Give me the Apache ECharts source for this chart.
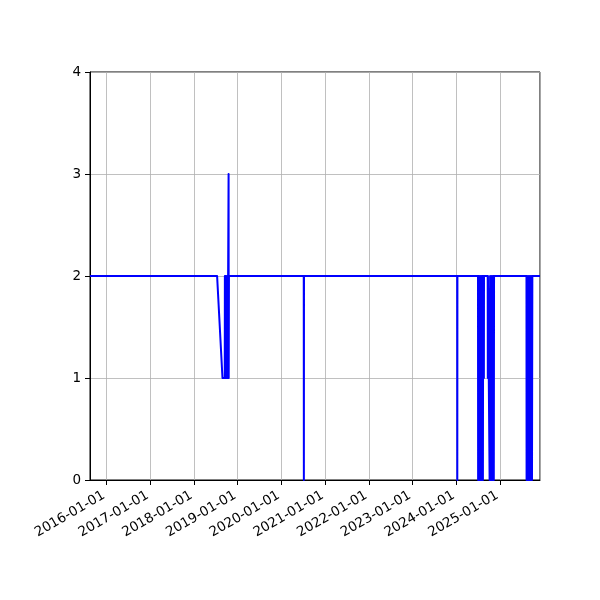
<!DOCTYPE html>
<html><head><meta charset="utf-8">
<script src="https://cdn.jsdelivr.net/npm/echarts@6/dist/echarts.min.js"></script>
<style>html,body{margin:0;padding:0;background:#fff}#c{width:600px;height:600px}</style>
</head><body><div id="c"></div>
<script>
const xStart = '2015-08-16';
const xEnd = '2025-12-01';
const yTicks = [0, 1, 2, 3, 4];
const dates = [
  '2015-08-16','2018-07-13','2018-08-27','2018-09-15','2018-09-16','2018-09-21','2018-09-22',
  '2018-09-28','2018-09-29','2018-10-05','2018-10-06','2018-10-12','2018-10-13','2018-10-17',
  '2018-10-18','2018-10-20',
  '2020-07-06','2020-07-07','2020-07-08',
  '2024-01-09','2024-01-10','2024-01-11',
  '2024-07-01','2024-07-02','2024-07-05','2024-07-10','2024-07-13','2024-07-18','2024-07-21',
  '2024-07-26','2024-07-29','2024-08-03','2024-08-06','2024-08-11','2024-08-13',
  '2024-08-18','2024-08-19','2024-08-20','2024-09-20','2024-09-21','2024-09-22',
  '2024-10-05','2024-10-06','2024-10-10','2024-10-15','2024-10-19','2024-10-24','2024-10-28',
  '2024-11-02','2024-11-06','2024-11-10','2024-11-12',
  '2025-08-10','2025-08-11','2025-08-15','2025-08-20','2025-08-24','2025-08-29','2025-09-02',
  '2025-09-07','2025-09-11','2025-09-16','2025-09-20','2025-09-25','2025-09-28',
  '2025-12-01'
];
const values = [
  2,2,1,1,2,1,2,
  1,2,1,2,1,2,3,
  1,2,
  2,0,2,
  2,0,2,
  2,0,2,0,2,0,2,
  0,2,0,2,0,2,
  2,1,2,2,1,2,
  2,0,2,0,2,0,2,
  0,2,0,2,
  2,0,2,0,2,0,2,
  0,2,0,2,0,2,
  2
];
const seriesData = dates.map((d, i) => [d, values[i]]);
const chart = echarts.init(document.getElementById('c'), null, {renderer: 'canvas'});
const font = 'DejaVu Sans';
chart.setOption({
  animation: false,
  backgroundColor: '#fff',
  grid: {left: 90, right: 60, top: 72, bottom: 120, show: true, borderColor: '#000', borderWidth: 1},
  xAxis: {
    type: 'time',
    min: xStart, max: xEnd,
    splitNumber: 10,
    axisLine: {lineStyle: {color: '#000', width: 1}},
    axisTick: {show: true, length: 5, lineStyle: {color: '#000'}},
    axisLabel: {
      rotate: 30, fontSize: 13.5, fontFamily: font, color: '#000', margin: 13,
      padding: [0, 3, 0, 0],
      hideOverlap: false,
      formatter: v => echarts.time.format(v, '{yyyy}-{MM}-{dd}', false)
    },
    minorTick: {show: false},
    splitLine: {show: true, lineStyle: {color: '#b0b0b0', width: 0.8}}
  },
  yAxis: {
    type: 'value', min: yTicks[0], max: yTicks[yTicks.length - 1], interval: 1,
    axisLine: {show: true, lineStyle: {color: '#000', width: 1}},
    axisTick: {show: true, length: 5, lineStyle: {color: '#000'}},
    axisLabel: {fontSize: 13.5, fontFamily: font, color: '#000', margin: 9},
    splitLine: {show: true, lineStyle: {color: '#b0b0b0', width: 0.8}}
  },
  series: [{
    type: 'line', data: seriesData, showSymbol: false, symbol: 'none',
    lineStyle: {color: '#0000ff', width: 2, join: 'round', cap: 'butt'}, itemStyle: {color: '#0000ff'}
  }]
});
</script></body></html>
